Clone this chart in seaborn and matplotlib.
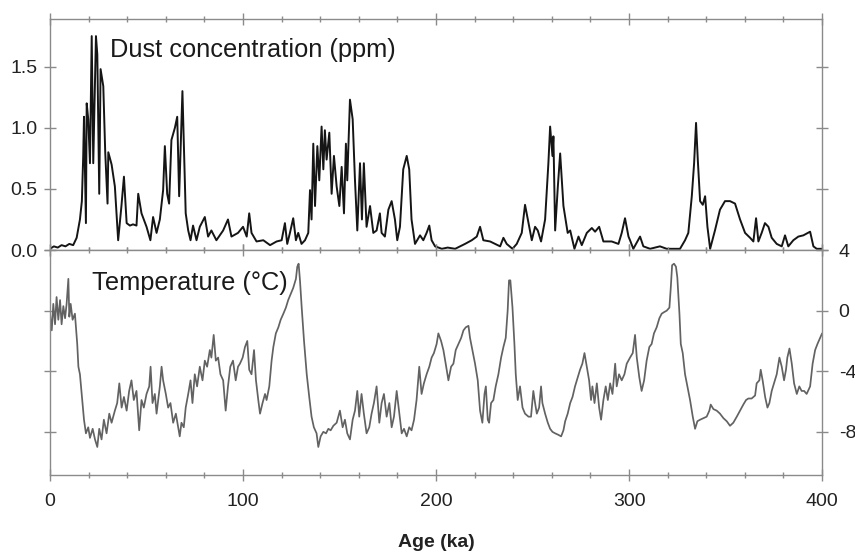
import matplotlib
matplotlib.use("Agg")
import matplotlib.pyplot as plt
from matplotlib.ticker import MultipleLocator
import pandas as pd
import seaborn as sns

dust_age_1 = [0, 2, 4, 6, 8, 10, 12, 13.8, 15.5, 16.5, 17.2, 17.6, 18.6, 19, 19.8, 20.7, 21.6, 22.4, 23.8, 24.5,
              25.5, 26.2, 27.6, 28.6, 29.8, 30.2, 31.9, 33.6, 35.3, 37, 38.3, 39.7, 41.4, 43, 44.8, 45.7, 47.4, 50,
              52, 53.4, 55.2, 56.9, 58.6, 59.5, 60.7, 61.7, 62.9, 64.7, 65.9, 66.9, 68.6, 70.3, 71.6, 72.8, 74.1,
              75.9, 77.6, 80.2, 81.9, 83.6, 86.2, 89.7, 92.2, 94, 97.4]
dust_ppm_1 = [0.01, 0.03, 0.02, 0.04, 0.03, 0.05, 0.04, 0.1, 0.25, 0.4, 0.77, 1.09, 0.22, 1.2, 1.07, 0.71, 1.75,
              0.71, 1.75, 1.6, 0.46, 1.48, 1.34, 0.8, 0.38, 0.8, 0.7, 0.52, 0.08, 0.36, 0.6, 0.22, 0.2, 0.21, 0.2,
              0.46, 0.3, 0.19, 0.08, 0.27, 0.14, 0.25, 0.49, 0.85, 0.46, 0.38, 0.9, 1.0, 1.09, 0.44, 1.3, 0.3,
              0.16, 0.08, 0.2, 0.08, 0.19, 0.27, 0.11, 0.16, 0.08, 0.16, 0.25, 0.11, 0.14]
dust_age_2 = [100, 101.9, 103.2, 104.4, 107, 110.5, 114, 117.4, 120, 121.7, 122.9, 124.3, 126, 127.4, 128.6,
              130.3, 132.1, 133.8, 134.7, 135.5, 136.4, 137.3, 138.5, 139.5, 140.7, 141.6, 142.4, 143.3, 144.7,
              145.9, 147.1, 148.5, 149.9, 151.1, 152.3, 153.3, 154, 155.4, 156.8, 158, 159.2, 160.6, 161.6,
              162.6, 164, 165.8, 167.5, 169.2, 170.9, 171.8, 173.5, 175.3, 177, 178.7, 179.9, 181.3, 183, 184.8,
              186.1, 187.3, 189.1, 191.7, 193.4, 195.1, 196.5, 197.7]
dust_ppm_2 = [0.19, 0.11, 0.3, 0.14, 0.07, 0.08, 0.04, 0.07, 0.08, 0.22, 0.05, 0.14, 0.26, 0.08, 0.14, 0.05,
              0.08, 0.14, 0.49, 0.25, 0.87, 0.36, 0.85, 0.57, 1.01, 0.66, 0.98, 0.74, 0.96, 0.46, 0.77, 0.52,
              0.36, 0.68, 0.3, 0.87, 0.57, 1.23, 1.07, 0.57, 0.16, 0.71, 0.25, 0.71, 0.19, 0.36, 0.14, 0.16, 0.3,
              0.14, 0.11, 0.33, 0.4, 0.25, 0.08, 0.19, 0.66, 0.77, 0.66, 0.25, 0.05, 0.12, 0.08, 0.14, 0.2, 0.08]
dust_age_3 = [199.5, 203, 206, 209.9, 215, 218.5, 221.1, 222.8, 224.5, 228, 230.6, 233.2, 234.9, 236.6, 239.6,
              241.8, 244.4, 246.1, 247.9, 249.6, 251.3, 252.7, 254.4, 256.5, 258.2, 259.1, 260.3, 260.8, 261.7,
              263.1, 264.3, 266, 268.2, 269.5, 271.7, 273.8, 275.5, 278.1, 280.7, 282.4, 284.5, 286.7, 291,
              294.5, 296.2, 297.9, 299.7]
dust_ppm_3 = [0.03, 0.01, 0.02, 0.01, 0.05, 0.08, 0.11, 0.19, 0.08, 0.07, 0.05, 0.03, 0.1, 0.05, 0.01, 0.05,
              0.14, 0.37, 0.22, 0.08, 0.19, 0.16, 0.07, 0.25, 0.71, 1.01, 0.77, 0.93, 0.16, 0.52, 0.79, 0.36,
              0.14, 0.16, 0.01, 0.11, 0.04, 0.14, 0.18, 0.15, 0.19, 0.07, 0.07, 0.05, 0.14, 0.26, 0.11]
dust_age_4 = [300.5, 302.2, 305.7, 307.4, 310.9, 316, 319.5, 323, 326.4, 329, 330.7, 332.5, 333.7, 334.7, 335.6,
              336.8, 338.2, 339.4, 340.6, 342, 344.5, 347.1, 349.7, 352.3, 354.9, 357.5, 360.1, 362.7, 364.4,
              365.8, 367, 368.7, 370.4, 372.2, 373.9, 376.5, 379.1, 380.8, 382.5, 385.1, 387.7, 390.3, 393.8,
              395.5, 397.2, 400]
dust_ppm_4 = [0.08, 0.01, 0.11, 0.03, 0.01, 0.03, 0.01, 0.01, 0.01, 0.08, 0.14, 0.44, 0.71, 1.04, 0.74, 0.4,
              0.37, 0.44, 0.19, 0.01, 0.16, 0.33, 0.4, 0.4, 0.38, 0.25, 0.14, 0.1, 0.07, 0.26, 0.07, 0.14, 0.22,
              0.19, 0.1, 0.05, 0.03, 0.12, 0.03, 0.08, 0.11, 0.12, 0.15, 0.03, 0.01, 0.01]

# temperature record
temp_age_1 = [0, 0.9, 1.7, 2.6, 3.4, 4.3, 5.2, 6.0, 6.9, 7.8, 8.6, 9.5, 10, 10.7, 11.7, 12.9, 14.1, 14.7, 15.5,
              16.4, 17.6, 18.6, 19.8, 20.7, 22.1, 23.3, 24.5, 25.5, 26.7, 27.9, 29.3, 30.7, 31.9, 33.6, 34.8,
              35.9, 37.1, 38.3, 39.7, 41, 42.2, 43.4, 44.8, 46.2, 47.4, 48.6, 50, 51.4, 52.1, 53.1, 54.3, 55.2,
              56.9, 57.8, 58.6, 60, 61.2, 62.4, 63.8, 65.2, 66.4, 67.2, 68.1, 69.3, 70.3, 71.6, 72.8, 73.8, 75,
              76.2, 77.6, 79, 80.2, 81.4, 82.8, 83.6, 84.8, 85.9, 87.1, 88.3, 89.7, 91, 92.2, 93.4, 94.8, 96.2,
              97.4]
temp_c_1 = [-0.2, -1.3, 0.45, -0.9, 0.9, -0.6, 0.7, -0.9, 0.3, -0.5, 0.45, 2.1, -0.4, 0.45, -0.6, -0.2, -2.2,
            -3.7, -4.2, -5.5, -7.2, -8.1, -7.7, -8.4, -7.8, -8.5, -9.0, -7.8, -8.5, -7.2, -8.1, -6.8, -7.4, -6.6,
            -6.1, -4.8, -6.4, -5.7, -6.6, -5.3, -4.6, -5.9, -5.3, -7.9, -5.9, -6.4, -5.5, -5.0, -3.7, -6.1, -5.5,
            -6.8, -5.0, -3.7, -4.6, -5.5, -6.4, -6.1, -7.4, -6.8, -7.7, -8.3, -7.4, -7.7, -6.4, -5.5, -4.6, -6.1,
            -4.2, -5.0, -3.7, -4.6, -3.3, -3.7, -2.6, -3.1, -1.6, -3.3, -3.1, -4.2, -4.6, -6.6, -5.0, -3.7, -3.3,
            -4.6, -3.7]
temp_age_2 = [98.4, 99.8, 101, 102.2, 103.2, 104.4, 105.7, 106.7, 107.9, 108.8, 110.1, 111.4, 112.2, 113.6,
              114.8, 115.7, 117, 118.3, 119.5, 120.9, 122.2, 123.4, 124.7, 126, 127.4, 128.1, 128.8, 129.5,
              130.4, 131.6, 133, 134.3, 135.5, 136.7, 138.1, 139, 140.2, 141.6, 143, 144.2, 145.4, 146.8, 148.5,
              150.2, 151.6, 152.8, 154, 155.4, 156.8, 158, 159.2, 160.2, 161.4, 162.6, 164, 165.4, 166.6, 167.8,
              169.2, 170.6, 171.8, 173, 174.4, 175.8, 177, 178.2, 179.6, 181, 182.2, 183.4, 184.8, 186.1, 187.3,
              188.6, 189.9, 191.3, 192.5, 193.7, 195.1, 196.5, 197.7, 198.9]
temp_c_2 = [-3.5, -3.1, -2.4, -2.0, -3.9, -4.2, -2.6, -4.6, -5.9, -6.8, -6.1, -5.5, -5.9, -5.0, -3.3, -2.4,
            -1.5, -1.1, -0.6, -0.2, 0.2, 0.7, 1.1, 1.5, 2.1, 2.9, 3.1, 2.0, 0.2, -2.0, -4.2, -5.7, -7.0, -7.7,
            -8.1, -9.0, -8.3, -8.0, -8.1, -7.8, -7.9, -7.6, -7.4, -6.6, -7.7, -7.2, -8.1, -8.5, -7.2, -6.6, -5.3,
            -7.0, -5.5, -6.8, -8.1, -7.7, -6.8, -6.1, -5.0, -7.4, -6.1, -5.5, -7.0, -6.1, -7.7, -7.0, -5.3, -6.8,
            -8.1, -7.8, -8.3, -7.7, -7.9, -7.2, -5.9, -3.7, -5.5, -4.8, -4.2, -3.7, -3.1, -2.8]
temp_age_3 = [200.3, 201.2, 202.6, 203.8, 205, 206.4, 207.8, 209, 210.2, 211.6, 213, 214.2, 215.4, 216.8, 217.6,
              218.8, 220.2, 221.6, 222.8, 224, 225.1, 225.8, 226.8, 227.5, 228.5, 229.7, 230.9, 232.3, 233.7,
              234.9, 236.1, 237.1, 237.8, 238.5, 239.6, 240.6, 241.3, 242.3, 243.5, 244.8, 246.1, 247.9, 249.2,
              250.4, 251.3, 252.2, 253.4, 254.4, 255.1, 256.5, 257.9, 259.1, 260.3, 261.7, 263.4, 264.8, 266,
              266.9, 268.2, 269.5, 270.7, 272, 273.4, 274.6, 275.8, 276.9, 278.1, 279.3, 280.3, 281, 282.1,
              283.3, 284.5, 285.5, 286.7, 287.9, 289, 290.2, 291.4, 292.8, 293.6, 294.8, 296.2, 297.6, 298.8]
temp_c_3 = [-2.2, -1.5, -2.0, -2.6, -3.5, -4.6, -3.7, -3.5, -2.6, -2.2, -1.8, -1.3, -1.1, -1.0, -1.8, -2.6,
            -3.5, -4.6, -6.6, -7.4, -5.5, -5.0, -7.2, -7.4, -6.1, -5.9, -5.0, -4.2, -3.1, -2.4, -1.8, 0.0, 2.0,
            2.0, 0.2, -2.2, -4.2, -5.9, -5.0, -6.4, -6.8, -7.0, -7.0, -5.3, -6.1, -6.8, -6.4, -5.0, -6.1, -6.8,
            -7.4, -7.8, -8.0, -8.1, -8.2, -8.3, -7.9, -7.3, -6.8, -6.1, -5.7, -5.0, -4.4, -3.9, -3.5, -2.8, -3.7,
            -4.6, -5.9, -5.0, -6.1, -4.8, -6.4, -7.2, -5.9, -5.0, -5.9, -4.8, -5.5, -3.5, -5.0, -4.2, -4.6, -4.2,
            -3.5]
temp_age_4 = [300.5, 301.9, 303.1, 304, 305.3, 306.5, 307.8, 309.1, 310.5, 311.7, 312.9, 314.3, 315.7, 316.9,
              318.1, 319.5, 320.9, 321.6, 322.3, 323.3, 324.3, 325, 326.1, 326.8, 327.8, 329, 330.2, 331.6, 333,
              334.2, 335.4, 336.8, 338.5, 340.2, 341.6, 342.3, 343.7, 345.4, 347.1, 348.9, 350.6, 352.3, 354,
              355.8, 357.5, 359.2, 360.6, 361.8, 363.5, 365.3, 366.1, 367.5, 368.2, 369.2, 370.5, 371.7, 372.7,
              373.9, 375.1, 376.5, 377.9, 379.1, 380.3, 381.3, 382, 383.1, 384.3, 385.5, 386.9, 388.2, 389.4,
              390.7, 392, 393.8, 395.1, 396.4, 397.6, 399, 400]
temp_c_4 = [-3.1, -2.8, -1.6, -3.1, -4.4, -5.3, -4.6, -3.3, -2.4, -2.2, -1.5, -1.1, -0.5, -0.2, -0.1, 0.0, 0.2,
            1.5, 3.0, 3.1, 2.9, 2.2, -0.2, -2.2, -2.8, -4.2, -5.0, -5.9, -7.0, -7.8, -7.3, -7.2, -7.1, -7.0, -6.6,
            -6.2, -6.5, -6.6, -6.8, -7.1, -7.3, -7.6, -7.4, -7.0, -6.6, -6.2, -5.9, -5.8, -5.8, -5.6, -4.8, -4.6,
            -3.9, -4.6, -5.7, -6.4, -6.1, -5.3, -4.8, -4.2, -3.1, -3.7, -4.6, -3.9, -3.1, -2.5, -3.5, -4.8, -5.5,
            -5.0, -5.3, -5.3, -5.5, -5.0, -3.5, -2.6, -2.2, -1.8, -1.5]

x_ticks = [0, 100, 200, 300, 400]
dust_ticks = [0.0, 0.5, 1.0, 1.5]
temp_ticks = [4, 0, -4, -8]

dust = pd.DataFrame({"age": dust_age_1 + dust_age_2 + dust_age_3 + dust_age_4,
                     "ppm": dust_ppm_1 + dust_ppm_2 + dust_ppm_3 + dust_ppm_4})
temp = pd.DataFrame({"age": temp_age_1 + temp_age_2 + temp_age_3 + temp_age_4,
                     "degc": temp_c_1 + temp_c_2 + temp_c_3 + temp_c_4})

sns.set_style("ticks")
plt.rcParams['font.family'] = ['Liberation Sans', 'DejaVu Sans']

spine_col = '#8a8a8a'
fig = plt.figure(figsize=(8.55, 5.54), dpi=100)
ax1 = fig.add_axes([0.0585, 0.5487, 0.903, 0.417])
ax2 = fig.add_axes([0.0585, 0.1426, 0.903, 0.406], sharex=ax1)

sns.lineplot(data=dust, x="age", y="ppm", ax=ax1, color='#151515', lw=1.4,
             sort=False, estimator=None)
sns.lineplot(data=temp, x="age", y="degc", ax=ax2, color='#626262', lw=1.25,
             sort=False, estimator=None)

ax1.set_xlim(0, 400)
ax1.set_ylim(0, 1.89)
ax2.set_ylim(-10.85, 4)

for ax in (ax1, ax2):
    for s in ax.spines.values():
        s.set_visible(True)
        s.set_color(spine_col)
        s.set_linewidth(1.0)
    ax.set_xlabel('')
    ax.set_ylabel('')
    ax.xaxis.set_major_locator(MultipleLocator(100))
    ax.xaxis.set_minor_locator(MultipleLocator(20))
    ax.tick_params(which='major', direction='inout', length=8, width=1.0, color=spine_col,
                   labelsize=14, labelcolor='#222222', top=True, bottom=True, left=True, right=True)
    ax.tick_params(which='minor', direction='inout', length=5, width=1.0, color=spine_col,
                   top=True, bottom=True, left=False, right=False)

ax1.set_yticks(dust_ticks)
ax1.set_yticklabels([f"{v:.1f}" for v in dust_ticks])
ax1.tick_params(axis='x', labelbottom=False)
ax1.tick_params(axis='y', labelleft=True, labelright=False, pad=5)

ax2.set_yticks(temp_ticks)
ax2.set_yticklabels([str(v) for v in temp_ticks])
ax2.tick_params(axis='y', labelleft=False, labelright=True, pad=8)
ax2.set_xticks(x_ticks)
ax2.tick_params(axis='x', pad=9)

ax1.text(31, 1.64, "Dust concentration (ppm)", fontsize=18.3, color='#1a1a1a', va='center')
ax2.text(22, 1.85, "Temperature (°C)", fontsize=18.3, color='#1a1a1a', va='center')

fig.text(0.51, 0.02, "Age (ka)", ha='center', va='center', fontsize=14, fontweight='bold', color='#222222')

fig.savefig("out.png", dpi=100)
